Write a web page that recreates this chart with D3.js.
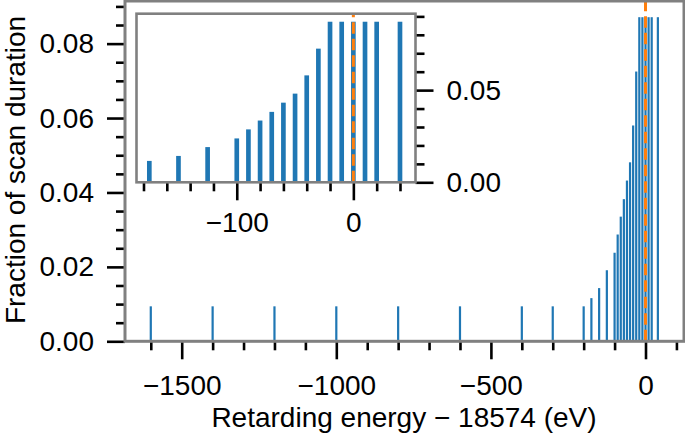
<!DOCTYPE html>
<html>
<head>
<meta charset="utf-8">
<script src="https://cdn.jsdelivr.net/npm/d3@7"></script>
<style>
body { margin: 0; background: #fff; }
svg text { font-family: "Liberation Sans", Arial, sans-serif; fill: #000; }
</style>
</head>
<body>
<div id="chart"></div>
<script>
// retarding energies (eV, relative to 18574) and fraction of scan time
var energies = [-1600, -1400, -1200, -1000, -800, -600, -400, -300, -200,
                -175, -150, -125, -100, -90, -80, -70, -60, -50, -40, -30,
                -20, -10, 0, 10, 20, 40];
var fractions = [0.0094, 0.0094, 0.0094, 0.0094, 0.0094, 0.0094, 0.0094, 0.0094, 0.0094,
                 0.0116, 0.0143, 0.0191, 0.0238, 0.0287, 0.0335, 0.0382, 0.0432, 0.0481, 0.0580, 0.0725,
                 0.0871, 0.0871, 0.0871, 0.0871, 0.0871, 0.0871];
var endpointLine = 0;

var mainXTicks = [-1500, -1000, -500, 0];
var mainXMinor = [-1600, -1400, -1300, -1200, -1100, -900, -800, -700, -600, -400, -300, -200, -100, 100];
var mainYTicks = [0, 0.02, 0.04, 0.06, 0.08];
var mainYMinor = [0.005, 0.01, 0.015, 0.025, 0.03, 0.035, 0.045, 0.05, 0.055, 0.065, 0.07, 0.075, 0.085, 0.09];
var insetXTicks = [-100, 0];
var insetXMinor = [-180, -160, -140, -120, -80, -60, -40, -20, 20, 40];
var insetYTicks = [0, 0.05];
var insetYMinor = [0.01, 0.02, 0.03, 0.04, 0.06, 0.07, 0.08, 0.09];

var data = energies.map(function (e, i) { return {e: e, f: fractions[i]}; });

var width = 685,
    height = 437;
var barWidth = 4; // eV
var minBarPx = 2.2; // keeps the narrow main-panel bars visible
var yMax = 0.0871 * 1.05;

var svg = d3.select("#chart")
    .append("svg")
    .attr("width", width)
    .attr("height", height);

var x = d3.scaleLinear().domain([-1683.4, 124.5]).range([125, 684]);
var y = d3.scaleLinear().domain([0, yMax]).range([341.3, 1]);

var xi = d3.scaleLinear().domain([-186, 53.3]).range([136.5, 415.5]);
var yi = d3.scaleLinear().domain([0, yMax]).range([182.3, 13.7]);

var fmt = d3.format(".2f");
var fmtInt = d3.format("d");

// ticks: black, thick, no domain path
function drawAxis(g, axis) {
    g.call(axis);
    g.select(".domain").remove();
    g.selectAll(".tick line").attr("stroke", "#000").attr("stroke-width", 2.6);
    g.selectAll(".tick text").style("font-size", "28px");
}

function barPx(xs, d) {
    return Math.max(minBarPx, xs(d.e + barWidth / 2) - xs(d.e - barWidth / 2));
}

function bars(g, xs, ys, rows) {
    g.selectAll("rect")
        .data(rows)
        .enter()
        .append("rect")
        .attr("x", function (d) { return xs(d.e) - barPx(xs, d) / 2; })
        .attr("width", function (d) { return barPx(xs, d); })
        .attr("y", function (d) { return ys(d.f); })
        .attr("height", function (d) { return ys(0) - ys(d.f); })
        .attr("fill", "#1f77b4");
}

function vline(g, xs, ys) {
    g.append("line")
        .attr("x1", xs(endpointLine))
        .attr("x2", xs(endpointLine))
        .attr("y1", ys(0))
        .attr("y2", ys(yMax))
        .attr("stroke", "#ff7f0e")
        .attr("stroke-width", 3)
        .attr("stroke-dasharray", "11.5,5");
}

// ---- main axes ----
var main = svg.append("g").attr("id", "main");
bars(main.append("g"), x, y, data);
vline(main, x, y);

drawAxis(main.append("g").attr("transform", "translate(0,341.3)"),
    d3.axisBottom(x).tickValues(mainXMinor).tickSize(9).tickFormat(""));
drawAxis(main.append("g").attr("transform", "translate(0,341.3)"),
    d3.axisBottom(x).tickValues(mainXTicks).tickSize(18).tickPadding(16).tickFormat(fmtInt));
drawAxis(main.append("g").attr("transform", "translate(125,0)"),
    d3.axisLeft(y).tickValues(mainYMinor).tickSize(9).tickFormat(""));
drawAxis(main.append("g").attr("transform", "translate(125,0)"),
    d3.axisLeft(y).tickValues(mainYTicks).tickSize(18).tickPadding(13).tickFormat(fmt));

main.append("rect")
    .attr("x", 125).attr("y", 1)
    .attr("width", 684 - 125).attr("height", 341.3 - 1)
    .attr("fill", "none")
    .attr("stroke", "#808080")
    .attr("stroke-width", 3);

main.append("text")
    .attr("x", 404)
    .attr("y", 427)
    .attr("text-anchor", "middle")
    .style("font-size", "28px")
    .text("Retarding energy \u2212 18574 (eV)");

main.append("text")
    .attr("transform", "translate(25,170) rotate(-90)")
    .attr("text-anchor", "middle")
    .style("font-size", "28px")
    .text("Fraction of scan duration");

// ---- inset ----
var inset = svg.append("g").attr("id", "inset");
inset.append("rect")
    .attr("x", 136.5).attr("y", 13.7)
    .attr("width", 415.5 - 136.5).attr("height", 182.3 - 13.7)
    .attr("fill", "#fff");

var insetData = data.filter(function (d) {
    return d.e > xi.domain()[0] && d.e < xi.domain()[1];
});
bars(inset.append("g"), xi, yi, insetData);
vline(inset, xi, yi);

drawAxis(inset.append("g").attr("transform", "translate(0,182.3)"),
    d3.axisBottom(xi).tickValues(insetXMinor).tickSize(9).tickFormat(""));
drawAxis(inset.append("g").attr("transform", "translate(0,182.3)"),
    d3.axisBottom(xi).tickValues(insetXTicks).tickSize(18).tickPadding(12).tickFormat(fmtInt));
drawAxis(inset.append("g").attr("transform", "translate(415.5,0)"),
    d3.axisRight(yi).tickValues(insetYMinor).tickSize(9).tickFormat(""));
drawAxis(inset.append("g").attr("transform", "translate(415.5,0)"),
    d3.axisRight(yi).tickValues(insetYTicks).tickSize(18).tickPadding(13).tickFormat(fmt));

inset.append("rect")
    .attr("x", 136.5).attr("y", 13.7)
    .attr("width", 415.5 - 136.5).attr("height", 182.3 - 13.7)
    .attr("fill", "none")
    .attr("stroke", "#808080")
    .attr("stroke-width", 2.6);
</script>
</body>
</html>
